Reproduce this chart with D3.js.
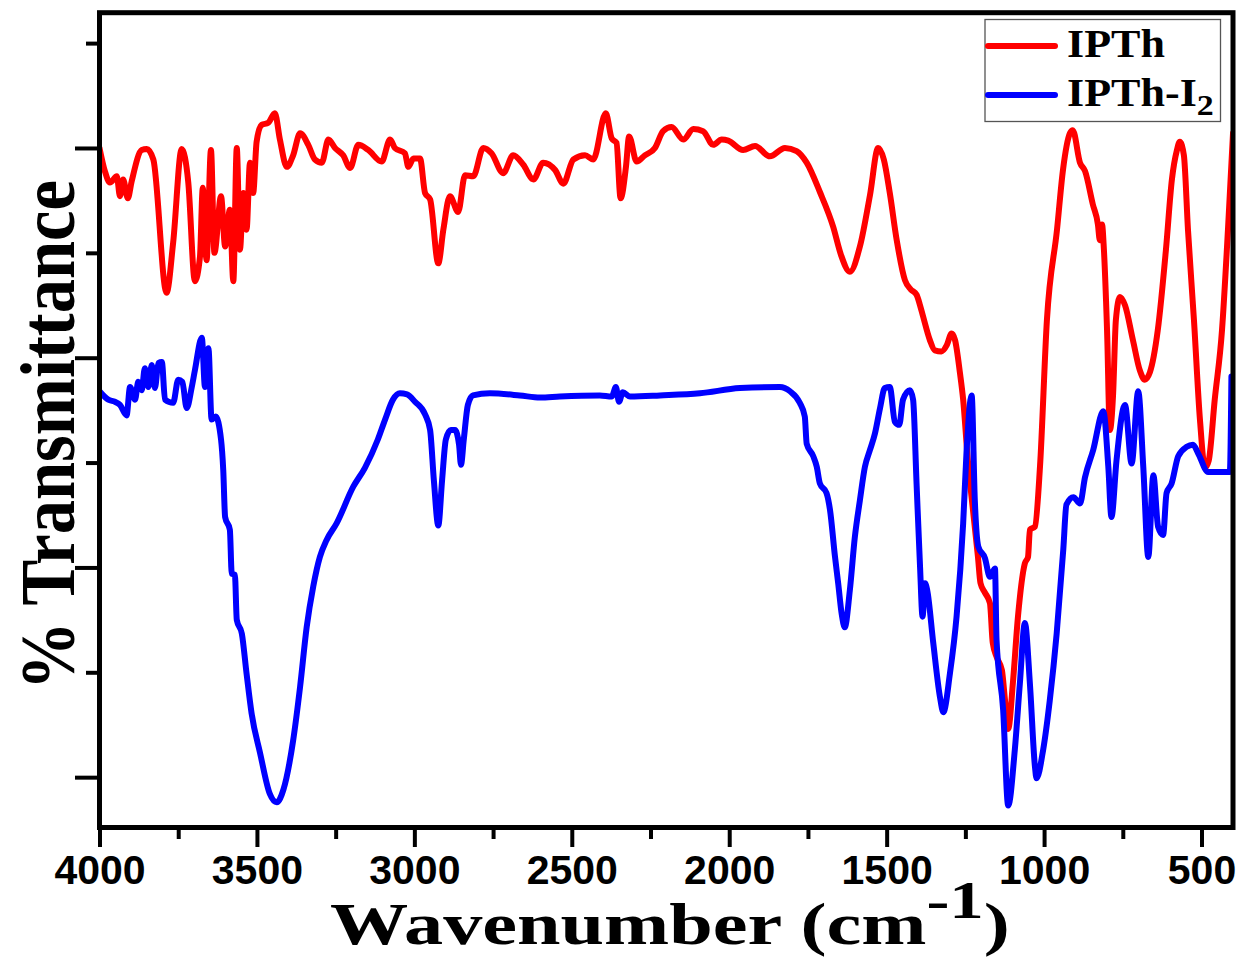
<!DOCTYPE html>
<html>
<head>
<meta charset="utf-8">
<title>FTIR spectra of IPTh and IPTh-I2</title>
<script src="https://cdn.jsdelivr.net/npm/d3@7"></script>
<style>
  html, body { margin: 0; padding: 0; background: #ffffff; }
  svg { display: block; }
</style>
</head>
<body>
<svg id="chart" width="1247" height="957"></svg>
<script>
// ---- Spectrum: IPTh (wavenumber in cm^-1, % transmittance) ----
const ipthWavenumber = [
  4000,3983,3967,3945,3935,3925,3910,3898,3866,3850,
  3829,3787,3766,3739,3718,3697,3681,3672,3660,3646,
  3635,3614,3601,3586,3575,3564,3554,3543,3533,3522,
  3512,3501,3485,3464,3443,3427,3405,3385,3363,3337,
  3316,3294,3273,3252,3226,3204,3178,3146,3104,3077,
  3062,3030,3019,3003,2982,2966,2950,2924,2908,2887,
  2861,2839,2813,2781,2755,2718,2686,2654,2622,2591,
  2553,2527,2495,2458,2432,2392,2373,2358,2345,2328,
  2318,2294,2268,2236,2210,2183,2146,2114,2083,2051,
  2024,2003,1956,1918,1871,1823,1786,1754,1712,1670,
  1645,1617,1585,1553,1527,1509,1490,1468,1442,1423,
  1405,1394,1384,1363,1347,1326,1309,1294,1283,1267,
  1257,1242,1226,1210,1202,1188,1172,1163,1150,1134,
  1124,1114,1099,1083,1061,1051,1045,1029,1013,991,
  959,940,918,909,886,870,845,829,823,816,
  810,800,791,781,772,759,743,718,696,680,
  664,639,613,594,578,569,556,543,524,505,
  489,477,458,435,416,400
];
const ipthTransmittance = [
  70.0,67.8,66.7,67.3,65.4,67.0,65.2,66.8,69.8,69.9,
  68.9,56.2,61.0,69.9,66.7,57.3,59.6,66.2,59.3,69.8,
  60.0,65.4,60.6,64.1,57.3,70.0,60.3,65.7,62.2,68.6,
  65.7,70.6,72.2,72.4,73.3,70.8,68.2,69.3,71.4,70.3,
  68.9,68.6,70.8,70.0,69.3,68.1,70.3,69.8,68.7,70.8,
  70.0,69.5,68.2,69.0,69.0,65.7,65.1,59.0,62.2,65.4,
  63.9,67.4,67.3,70.0,69.5,67.6,69.3,68.4,67.0,68.6,
  67.9,66.6,68.9,69.3,68.9,73.3,70.9,70.5,65.2,68.2,
  71.1,68.7,69.3,70.0,71.6,72.0,70.8,71.8,71.6,70.3,
  70.8,70.7,69.8,70.2,69.2,70.0,69.7,68.6,65.8,62.5,
  59.8,58.2,60.6,65.5,70.0,68.9,65.7,61.2,57.4,56.5,
  56.0,55.0,53.9,51.7,50.7,50.6,51.2,52.3,51.7,48.5,
  46.0,40.2,35.5,31.0,28.5,27.6,26.6,22.8,21.4,20.2,
  17.3,14.6,19.0,25.3,30.4,31.0,33.6,33.9,39.6,53.6,
  62.2,67.9,71.4,71.7,68.6,67.8,64.6,62.7,61.2,62.7,
  60.3,52.6,43.1,46.4,53.6,55.8,55.0,51.7,48.8,47.9,
  48.6,52.6,60.3,67.0,69.8,70.6,69.3,62.2,53.6,44.1,
  39.5,40.2,46.0,52.6,62.2,71.4
];

// ---- Spectrum: IPTh-I2 ----
const ipthI2Wavenumber = [
  4000,3972,3951,3935,3914,3903,3887,3877,3866,3856,
  3845,3834,3824,3813,3802,3792,3766,3750,3737,3723,
  3707,3697,3675,3665,3654,3644,3631,3614,3607,3601,
  3586,3580,3570,3564,3548,3533,3517,3490,3459,3437,
  3416,3385,3363,3342,3321,3300,3279,3247,3194,3157,
  3116,3093,3068,3046,3023,2998,2966,2950,2938,2924,
  2912,2900,2884,2871,2858,2852,2843,2830,2814,2760,
  2665,2601,2538,2411,2373,2360,2350,2338,2315,2220,
  2093,1966,1839,1807,1776,1760,1754,1733,1722,1712,
  1691,1680,1664,1654,1643,1633,1617,1601,1585,1569,
  1553,1537,1521,1506,1490,1474,1460,1448,1426,1416,
  1405,1394,1386,1378,1371,1352,1331,1320,1299,1278,
  1257,1246,1230,1220,1209,1188,1172,1156,1151,1130,
  1114,1093,1077,1061,1045,1029,1024,1003,982,960,
  939,929,907,886,870,844,812,796,786,770,
  743,722,701,685,669,653,638,622,611,595,
  574,547,527,511,479,410,405
];
const ipthI2Transmittance = [
  46.8,46.0,45.8,45.5,44.5,47.2,46.0,47.7,46.9,49.0,
  47.2,49.3,47.1,49.5,49.6,46.0,45.7,47.9,47.7,45.2,
  47.2,48.8,51.9,47.2,50.9,44.1,44.4,42.2,39.3,34.8,
  33.6,29.4,29.3,25.0,23.7,19.9,16.1,12.3,8.4,7.6,
  8.8,13.5,18.6,24.3,28.2,31.0,32.6,34.2,37.7,39.5,
  42.2,44.1,46.0,46.6,46.5,45.8,44.6,43.1,38.3,34.0,
  38.3,42.2,43.1,43.1,41.7,39.8,42.2,45.5,46.4,46.6,
  46.4,46.2,46.3,46.4,46.3,47.2,45.8,46.7,46.3,46.4,
  46.6,47.1,47.2,46.8,45.7,44.4,41.8,40.6,39.6,38.0,
  37.1,35.5,31.0,28.5,25.6,24.3,27.8,32.9,36.4,39.6,
  41.2,42.8,45.2,47.1,47.2,43.9,43.6,46.0,46.9,46.0,
  38.0,30.1,25.3,28.5,27.8,22.8,17.7,16.2,19.9,25.3,
  34.2,41.2,46.4,36.4,32.0,30.9,29.1,29.9,23.1,16.4,
  7.3,12.6,18.9,24.7,18.9,11.0,9.9,12.6,17.3,23.7,
  31.7,36.0,36.7,36.1,38.6,41.2,44.9,39.6,34.8,40.2,
  45.5,39.9,46.8,39.6,31.0,38.8,33.9,33.1,37.1,38.0,
  40.6,41.5,41.7,40.9,39.1,39.1,48.2
];

// ---- Axis ticks ----
const xMajorTicks = [4000, 3500, 3000, 2500, 2000, 1500, 1000, 500];
const xMinorTicks = [3750, 3250, 2750, 2250, 1750, 1250, 750];
const yMajorTicks = [10, 30, 50, 70];
const yMinorTicks = [20, 40, 60, 80];

const seriesNames = ["IPTh", "IPTh-I2"];
const seriesColors = ["#ff0000", "#0000ff"];

// ---- Layout ----
const W = 1247, H = 957;
const plot = { left: 99.5, right: 1233, top: 12.7, bottom: 827.5 };

const x = d3.scaleLinear().domain([4000, 400]).range([plot.left, plot.right]);
const y = d3.scaleLinear().domain([5.2, 82.9]).range([plot.bottom, plot.top]);

const svg = d3.select("#chart");
svg.append("rect").attr("width", W).attr("height", H).attr("fill", "#ffffff");

svg.append("defs").append("clipPath").attr("id", "plot-clip")
  .append("rect")
  .attr("x", plot.left).attr("y", plot.top)
  .attr("width", plot.right - plot.left).attr("height", plot.bottom - plot.top);

// ---- Spectra ----
const spectra = [
  d3.zip(ipthWavenumber, ipthTransmittance),
  d3.zip(ipthI2Wavenumber, ipthI2Transmittance)
];

const line = d3.line()
  .x(d => x(d[0]))
  .y(d => y(d[1]))
  .curve(d3.curveMonotoneX);

const lineLayer = svg.append("g").attr("clip-path", "url(#plot-clip)");
spectra.forEach((pts, i) => {
  lineLayer.append("path")
    .datum(pts)
    .attr("d", line)
    .attr("fill", "none")
    .attr("stroke", seriesColors[i])
    .attr("stroke-width", 6)
    .attr("stroke-linejoin", "round")
    .attr("stroke-linecap", "round");
});

// ---- Axes ----
function styleAxis(g, width) {
  g.select(".domain").remove();
  g.selectAll(".tick line").attr("stroke", "#000").attr("stroke-width", width);
}

const frameW = 5;

svg.append("g")
  .attr("transform", `translate(0,${plot.bottom + frameW / 2})`)
  .call(d3.axisBottom(x).tickValues(xMajorTicks).tickSize(17).tickPadding(8)
    .tickFormat(d3.format("d")))
  .call(g => styleAxis(g, 4))
  .call(g => g.selectAll(".tick text")
    .attr("fill", "#000")
    .style("font-family", "'Liberation Sans', Arial, sans-serif")
    .style("font-weight", "bold")
    .style("font-size", "41px"));

svg.append("g")
  .attr("transform", `translate(0,${plot.bottom + frameW / 2})`)
  .call(d3.axisBottom(x).tickValues(xMinorTicks).tickSize(9).tickFormat(""))
  .call(g => styleAxis(g, 4));

svg.append("g")
  .attr("transform", `translate(${plot.left - frameW / 2},0)`)
  .call(d3.axisLeft(y).tickValues(yMajorTicks).tickSize(22).tickFormat(""))
  .call(g => styleAxis(g, 4));

svg.append("g")
  .attr("transform", `translate(${plot.left - frameW / 2},0)`)
  .call(d3.axisLeft(y).tickValues(yMinorTicks).tickSize(11).tickFormat(""))
  .call(g => styleAxis(g, 4));

// frame around the plot
svg.append("rect")
  .attr("x", plot.left).attr("y", plot.top)
  .attr("width", plot.right - plot.left).attr("height", plot.bottom - plot.top)
  .attr("fill", "none").attr("stroke", "#000").attr("stroke-width", frameW);

// ---- Axis titles ----
const serif = "'Liberation Serif', 'Times New Roman', serif";

// fit a text element into a given length by scaling along its reading direction
function fitLength(sel, targetLen, cx, cy) {
  const bb = sel.node().getBBox();
  const k = targetLen / bb.width;
  sel.attr("transform", `translate(${cx},${cy}) scale(${k},1)`);
}

const xTitle = svg.append("text")
  .attr("x", 0).attr("y", 0)
  .attr("text-anchor", "middle")
  .style("font-family", serif).style("font-weight", "bold").style("font-size", "59px")
  .attr("fill", "#000");
xTitle.append("tspan").text("Wavenumber (cm");
xTitle.append("tspan").attr("dy", "-0.5em").style("font-size", "52px").text("-1");
xTitle.append("tspan").attr("dy", "0.44em").text(")");
fitLength(xTitle, 680, 670, 944);

const yTitle = svg.append("g").attr("transform", "translate(74,435) rotate(-90)");
const yTitleText = yTitle.append("text")
  .attr("text-anchor", "middle")
  .style("font-family", serif).style("font-weight", "bold").style("font-size", "79px")
  .attr("fill", "#000")
  .text("% Transmittance");
fitLength(yTitleText, 510, 0, 0);

// ---- Legend ----
const legend = svg.append("g");
legend.append("rect")
  .attr("x", 985).attr("y", 19.5).attr("width", 235.5).attr("height", 102)
  .attr("fill", "#ffffff").attr("stroke", "#555").attr("stroke-width", 1.3);

const legendRows = [46, 95];
seriesNames.forEach((name, i) => {
  const ly = legendRows[i];
  legend.append("line")
    .attr("x1", 988).attr("x2", 1055).attr("y1", ly).attr("y2", ly)
    .attr("stroke", seriesColors[i]).attr("stroke-width", 6)
    .attr("stroke-linecap", "round");
  const t = legend.append("text")
    .attr("x", 0).attr("y", 0)
    .style("font-family", serif).style("font-weight", "bold").style("font-size", "39px")
    .attr("fill", "#000")
    .attr("transform", `translate(1067,${ly + 10.5}) scale(1.13,1)`);
  if (name.endsWith("2")) {
    t.append("tspan").text(name.slice(0, -1));
    t.append("tspan").attr("dy", "0.3em").style("font-size", "30px").text("2");
  } else {
    t.text(name);
  }
});
</script>
</body>
</html>
